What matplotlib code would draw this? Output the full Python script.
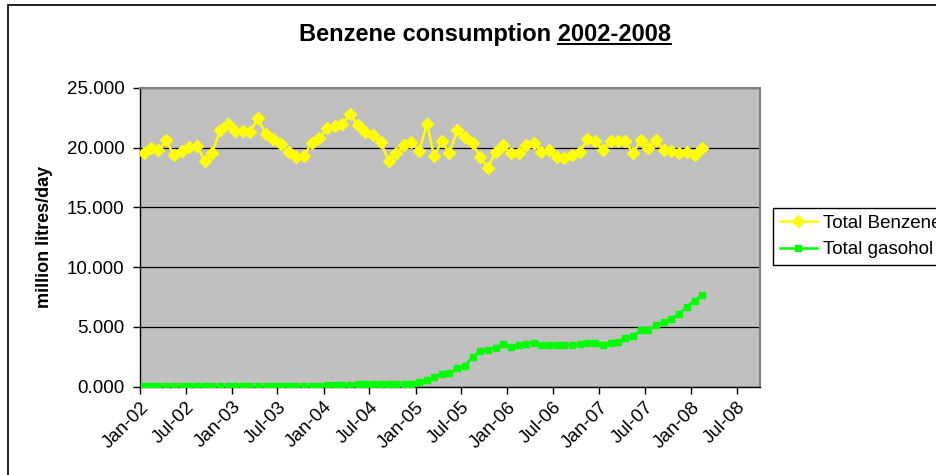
import matplotlib
matplotlib.use('agg')
import matplotlib.pyplot as plt
import matplotlib.dates as mdates
from matplotlib.patches import Rectangle
from matplotlib.lines import Line2D
import pandas as pd

plt.rcParams['font.family'] = ['Liberation Sans', 'DejaVu Sans']

# monthly data, Jan-02 .. Feb-08
months = pd.date_range('2002-01-01', periods=74, freq='MS') + pd.Timedelta(days=14)

total_benzene = [
    19.52, 20.00, 19.77, 20.61, 19.41, 19.72, 20.03, 20.13, 18.93, 19.55,
    21.45, 21.95, 21.39, 21.39, 21.31, 22.52, 21.12, 20.70, 20.33, 19.63,
    19.21, 19.35, 20.42, 20.78, 21.68, 21.81, 22.01, 22.79, 21.90, 21.31,
    21.03, 20.50, 18.93, 19.52, 20.25, 20.47, 19.72, 22.01, 19.30, 20.53,
    19.52, 21.45, 20.92, 20.36, 19.21, 18.32, 19.66, 20.25, 19.52, 19.52,
    20.19, 20.42, 19.66, 19.77, 19.24, 19.10, 19.41, 19.66, 20.70, 20.53,
    19.83, 20.53, 20.53, 20.53, 19.52, 20.64, 19.97, 20.64, 19.83, 19.72,
    19.52, 19.61, 19.41, 19.94,
]
total_gasohol = [
    0.05, 0.05, 0.05, 0.05, 0.05, 0.05, 0.05, 0.05, 0.05, 0.05,
    0.05, 0.05, 0.05, 0.05, 0.05, 0.05, 0.05, 0.05, 0.05, 0.05,
    0.05, 0.05, 0.05, 0.05, 0.17, 0.17, 0.12, 0.14, 0.25, 0.25,
    0.25, 0.25, 0.25, 0.22, 0.22, 0.22, 0.37, 0.56, 0.84, 1.04,
    1.12, 1.54, 1.74, 2.47, 3.00, 3.08, 3.27, 3.58, 3.36, 3.50,
    3.58, 3.69, 3.47, 3.47, 3.47, 3.47, 3.47, 3.58, 3.67, 3.67,
    3.47, 3.69, 3.78, 4.06, 4.25, 4.73, 4.73, 5.18, 5.45, 5.65,
    6.12, 6.71, 7.21, 7.69,
]
series_names = ['Total Benzene', 'Total gasohol']

W, H = 937, 475
fig = plt.figure(figsize=(W / 100, H / 100), dpi=100)
fig.patch.set_facecolor('white')

# chart area border (runs off the right and bottom of the picture)
fig.patches.append(Rectangle((8 / W, -0.5), 2.0, 1 - 5 / H + 0.5,
                             transform=fig.transFigure, fill=False,
                             edgecolor='black', lw=1.2))

ax = fig.add_axes([140 / W, 1 - 386.7 / H, 620 / W, 298.7 / H])
ax.set_facecolor('#C0C0C0')

ax.plot(months, total_benzene, color='#FFFF00', lw=1.8, marker='D',
        markersize=6, label=series_names[0], zorder=3)
ax.plot(months, total_gasohol, color='#00FF00', lw=1.8, marker='s',
        markersize=4.5, label=series_names[1], zorder=3)

ax.set_ylim(0, 25)
ax.set_yticks([0, 5, 10, 15, 20, 25])
ax.yaxis.set_major_formatter(plt.FuncFormatter(lambda v, p: f'{v:.3f}'))
ax.grid(axis='y', color='black', lw=0.9)
ax.set_axisbelow(True)

ax.set_xlim(pd.Timestamp('2002-01-01'), pd.Timestamp('2008-10-01'))
ax.xaxis.set_major_locator(mdates.MonthLocator(bymonth=[1, 7]))
ax.xaxis.set_major_formatter(mdates.DateFormatter('%b-%y'))

ax.tick_params(axis='both', direction='out', length=5, width=1,
               labelsize=13.5, colors='black')
ax.tick_params(axis='y', pad=6)
for lab in ax.get_xticklabels():
    lab.set_rotation(45)
    lab.set_ha('right')
    lab.set_rotation_mode('anchor')

for s in ['left', 'bottom']:
    ax.spines[s].set_color('black')
    ax.spines[s].set_linewidth(1)
for s in ['top', 'right']:
    ax.spines[s].set_color('#808080')
    ax.spines[s].set_linewidth(1.5)

ax.set_ylabel('million litres/day', fontsize=13, fontweight='bold', labelpad=10)

leg = fig.legend(loc='upper left', bbox_to_anchor=(773 / W, 1 - 208 / H),
                 fontsize=13.5, frameon=True, fancybox=False, framealpha=1,
                 edgecolor='black', handlelength=2.0, handletextpad=0.3,
                 borderpad=0.35, labelspacing=0.5, borderaxespad=0)
leg.get_frame().set_linewidth(1)

# title with underlined year range
title = fig.text(485 / W, 1 - 34 / H, 'Benzene consumption 2002-2008',
                 ha='center', va='center', fontsize=17, fontweight='bold')
fig.canvas.draw()
r = fig.canvas.get_renderer()
tb = title.get_window_extent(r)
probe = fig.text(0, 0, '2002-2008', fontsize=17, fontweight='bold')
pw = probe.get_window_extent(r).width
probe.remove()
uy = tb.y0 + 2
fig.add_artist(Line2D([(tb.x1 - pw) / W, tb.x1 / W], [uy / H, uy / H],
                      transform=fig.transFigure, color='black', lw=1.4))

fig.savefig('out.png', dpi=100)
